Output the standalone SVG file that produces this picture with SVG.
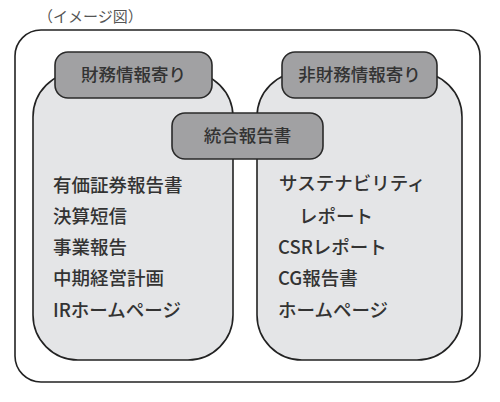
<svg xmlns="http://www.w3.org/2000/svg" width="500" height="402" viewBox="0 0 500 402">
<style>
text{font-family:"Noto Sans CJK JP","Noto Sans",sans-serif;fill:#333;font-weight:500;}
.item{font-size:18.5px;}
.lbl{font-size:17.5px;text-anchor:middle;}
.frame{fill:#fff;stroke:#222;stroke-width:1.6;}
.panel{fill:#e4e5e7;stroke:#222;stroke-width:1.6;}
.tag{fill:#a1a1a3;stroke:#2a2a2a;stroke-width:1.6;}
</style>
<rect width="500" height="402" fill="#fff"/>
<text x="38" y="22" style="font-size:15px;fill:#555;font-weight:400;">（イメージ図）</text>
<g id="frame">
<rect class="frame" x="15" y="30" width="465" height="352" rx="26" ry="26"/>
</g>
<g id="connectors"></g>
<g id="financial">
<rect class="panel" x="33" y="72" width="200" height="288" rx="45" ry="45"/>
<text class="item" x="53" y="192">有価証券報告書</text>
<text class="item" x="53" y="223">決算短信</text>
<text class="item" x="53" y="254">事業報告</text>
<text class="item" x="53" y="285">中期経営計画</text>
<text class="item" x="53" y="317">IRホームページ</text>
</g>
<g id="nonfinancial">
<rect class="panel" x="257" y="72" width="205" height="288" rx="45" ry="45"/>
<text class="item" x="279" y="190">サステナビリティ</text>
<text class="item" x="299" y="223">レポート</text>
<text class="item" x="278" y="254">CSRレポート</text>
<text class="item" x="278" y="285">CG報告書</text>
<text class="item" x="278" y="317">ホームページ</text>
</g>
<g id="tag-financial">
<rect class="tag" x="55" y="52" width="157" height="46" rx="13" ry="13"/>
<text class="lbl" x="133.5" y="81">財務情報寄り</text>
</g>
<g id="tag-nonfinancial">
<rect class="tag" x="282" y="52" width="155" height="46" rx="13" ry="13"/>
<text class="lbl" x="359.5" y="81">非財務情報寄り</text>
</g>
<g id="integrated">
<rect class="tag" x="172" y="113" width="151" height="46" rx="13" ry="13"/>
<text class="lbl" x="247.5" y="142">統合報告書</text>
</g>
</svg>
